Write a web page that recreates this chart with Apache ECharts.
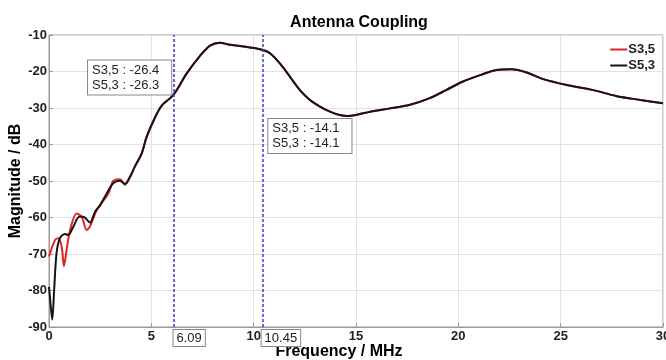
<!DOCTYPE html>
<html>
<head>
<meta charset="utf-8">
<script src="https://cdn.jsdelivr.net/npm/echarts@6/dist/echarts.min.js"></script>
<style>html,body{margin:0;padding:0;background:#fff}#c{width:666px;height:360px}</style>
</head>
<body>
<div id="c"></div>
<script>
var titleText = 'Antenna Coupling';
var xName = 'Frequency / MHz';
var yName = 'Magnitude / dB';
var seriesNames = ['S3,5', 'S5,3'];

var freqS35 = [0, 0.29, 0.45, 0.62, 0.73, 0.86, 1.03, 1.35, 1.6, 1.84, 2.0, 2.33, 2.9, 3.14, 3.47, 3.71, 3.96, 4.2, 4.53, 4.77, 5.18, 5.5, 6.09, 6.73, 7.38, 7.87, 8.35, 8.84, 9.33, 9.82, 10.45, 10.8, 11.28, 11.77, 12.26, 12.75, 13.24, 13.73, 14.2, 14.6, 15.0, 15.7, 16.66, 17.6, 18.6, 19.4, 20.2, 21.06, 21.87, 22.6, 23.3, 24.15, 25.3, 26.6, 27.7, 28.9, 30];
var magS35 = [-70.7, -66.2, -65.7, -68, -73.3, -68.9, -63.4, -58.9, -59.8, -63.4, -62.5, -58, -53.4, -50, -49.5, -51, -49, -46, -42.4, -37.9, -32.6, -29.4, -26.4, -20.5, -15.7, -12.9, -12.1, -12.7, -13, -13.4, -14.1, -15, -17.8, -21.4, -25.1, -27.8, -29.6, -31, -31.9, -32.2, -31.9, -31, -30.1, -29.2, -27.3, -25.1, -22.8, -21, -19.6, -19.4, -20.2, -22.1, -23.7, -25.1, -26.7, -27.8, -28.7];

var freqS53 = [0, 0.08, 0.16, 0.25, 0.37, 0.54, 0.78, 0.94, 1.19, 1.48, 1.68, 2.0, 2.25, 2.5, 2.82, 3.14, 3.47, 3.71, 3.96, 4.2, 4.53, 4.77, 5.18, 5.5, 6.09, 6.73, 7.38, 7.87, 8.35, 8.84, 9.33, 9.82, 10.45, 10.8, 11.28, 11.77, 12.26, 12.75, 13.24, 13.73, 14.2, 14.6, 15.0, 15.7, 16.66, 17.6, 18.6, 19.4, 20.2, 21.06, 21.87, 22.6, 23.3, 24.15, 25.3, 26.6, 27.7, 28.9, 30];
var magS53 = [-79, -84, -88, -80, -69.7, -65.6, -64.5, -64.8, -62.5, -59.8, -59.8, -61.4, -58.4, -56.6, -53.4, -50.6, -49.9, -50.8, -48.8, -46, -42.4, -37.9, -32.6, -29.4, -26.3, -20.5, -15.7, -12.9, -12.1, -12.7, -13, -13.4, -14.1, -15, -17.8, -21.4, -25.1, -27.8, -29.6, -31, -31.9, -32.2, -31.9, -31, -30.1, -29.2, -27.3, -25.1, -22.8, -21, -19.6, -19.4, -20.2, -22.1, -23.7, -25.1, -26.7, -27.8, -28.7];

var cursorFreqs = [6.09, 10.45];
var cursorS35 = [-26.4, -14.1];
var cursorS53 = [-26.3, -14.1];

function zip(a, b) { return a.map(function (v, i) { return [v, b[i]]; }); }

var chart = echarts.init(document.getElementById('c'));
var font = 'Liberation Sans, Arial, sans-serif';

var boxOffsets = [[-44, -17], [47, 86]];
var cursorLabelOffsets = [[15.5, 0], [18, 0]];

chart.setOption({
  animation: false,
  backgroundColor: '#fff',
  title: {
    text: titleText, left: 354, top: 10, textAlign: 'center',
    textStyle: { fontFamily: font, fontSize: 16, fontWeight: 'bold', color: '#000' }
  },
  legend: {
    data: seriesNames, orient: 'vertical', right: 6, top: 38,
    itemWidth: 17, itemHeight: 2, itemGap: 3,
    icon: 'rect',
    textStyle: { fontFamily: font, fontSize: 13, fontWeight: 'bold', color: '#222', padding: [0, 0, 0, -4] }
  },
  grid: { left: 49, right: 3, top: 35, bottom: 33, show: true, borderColor: '#999', borderWidth: 1, outerBoundsMode: 'none', containLabel: false },
  xAxis: {
    type: 'value', min: 0, max: 30, interval: 5,
    name: xName, nameLocation: 'middle', nameGap: 17, nameMoveOverlap: false,
    nameTextStyle: { fontFamily: font, fontSize: 16, fontWeight: 'bold', color: '#000', padding: [0, 34, 0, 0] },
    axisLine: { lineStyle: { color: '#999' } },
    axisTick: { inside: true, length: 4, lineStyle: { color: '#999' } },
    axisLabel: { fontFamily: font, fontSize: 13, fontWeight: 'bold', color: '#222', margin: 3 },
    splitLine: { show: true, lineStyle: { color: '#e2e2e2', width: 1 } }
  },
  yAxis: {
    type: 'value', min: -90, max: -10, interval: 10,
    name: yName, nameLocation: 'middle', nameGap: 25, nameMoveOverlap: false,
    nameTextStyle: { fontFamily: font, fontSize: 16, fontWeight: 'bold', color: '#000' },
    axisLine: { show: true, lineStyle: { color: '#999' } },
    axisTick: { inside: true, length: 4, lineStyle: { color: '#999' } },
    axisLabel: { fontFamily: font, fontSize: 13, fontWeight: 'bold', color: '#222', margin: 2 },
    splitLine: { show: true, lineStyle: { color: '#e2e2e2', width: 1 } }
  },
  series: [
    {
      name: seriesNames[0], type: 'line', data: zip(freqS35, magS35),
      smooth: 0.3, symbol: 'none', lineStyle: { color: '#e52222', width: 2 }, itemStyle: { color: '#e52222' },
      markLine: {
        silent: true, symbol: 'none',
        lineStyle: { color: '#3b3bd6', type: [3, 2], width: 1.5 },
        label: {
          show: true, position: 'start', distance: 3,
          fontFamily: font, fontSize: 13, color: '#222', lineHeight: 15,
          backgroundColor: '#fff', borderColor: '#888', borderWidth: 1, padding: [1, 3, 0, 3],
          formatter: function (p) { return p.value.toFixed(2); }
        },
        data: cursorFreqs.map(function (f, i) { return { xAxis: f, label: { offset: cursorLabelOffsets[i] } }; })
      }
    },
    {
      name: seriesNames[1], type: 'line', data: zip(freqS53, magS53),
      smooth: 0.3, symbol: 'none', lineStyle: { color: '#151515', width: 2 }, itemStyle: { color: '#151515' },
      markPoint: {
        symbol: 'rect', symbolSize: 0, silent: true,
        data: cursorFreqs.map(function (f, i) {
          return {
            coord: [f, cursorS53[i]],
            label: {
              show: true, position: 'inside', offset: boxOffsets[i],
              fontFamily: font, fontSize: 13, color: '#222', lineHeight: 15,
              backgroundColor: '#fff', borderColor: '#888', borderWidth: 1, padding: [3, 12, 1, 4],
              formatter: seriesNames[0] + ' : ' + cursorS35[i].toFixed(1) + '\n' + seriesNames[1] + ' : ' + cursorS53[i].toFixed(1)
            }
          };
        })
      }
    }
  ]
});
</script>
</body>
</html>
